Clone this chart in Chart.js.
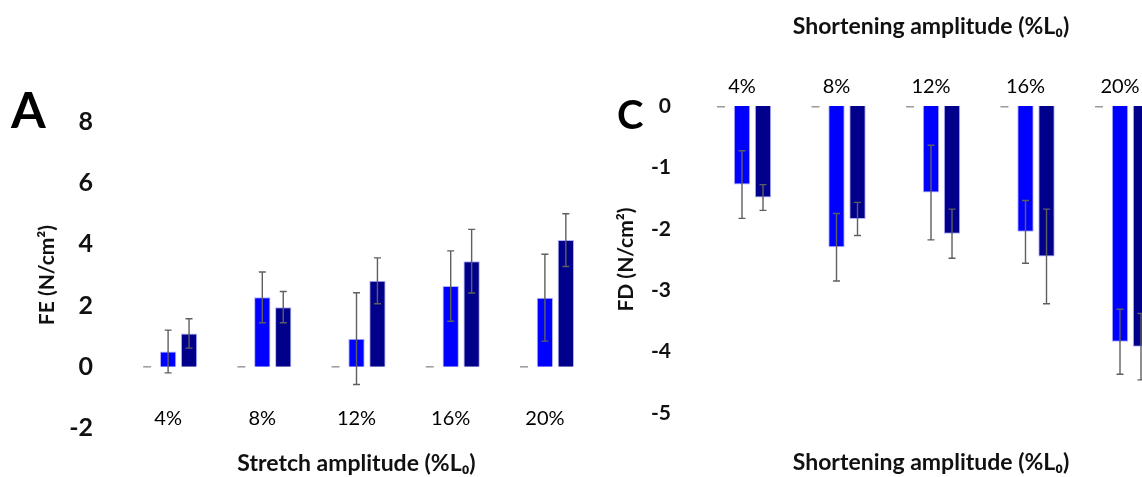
<!DOCTYPE html>
<html lang="en">
<head>
  <meta charset="UTF-8" />
  <title>FE / FD vs amplitude</title>
  <script src="https://cdn.jsdelivr.net/npm/chart.js"></script>
  <style>
    body {
      margin: 0;
      width: 1142px;
      height: 477px;
      overflow: hidden;
      position: relative;
      background: #fff;
      font-family: Lato, "Open Sans", sans-serif;
    }
    canvas {
      position: absolute;
      top: 0;
    }
    #chartA { left: 0; }
    #chartC { left: 600px; }
    .panel {
      position: absolute;
      font-weight: bold;
      color: #000;
      line-height: 1;
    }
    #letterA { left: 11px; top: 84px; font-size: 50px; }
    #letterC { left: 617px; top: 94px; font-size: 40px; }
  </style>
</head>
<body>
  <canvas id="chartA" width="610" height="477"></canvas>
  <canvas id="chartC" width="580" height="477"></canvas>
  <div class="panel" id="letterA">A</div>
  <div class="panel" id="letterC">C</div>

  <script>
    const amplitudes = ['4%', '8%', '12%', '16%', '20%'];
    const baseline = [0, 0, 0, 0, 0];

    // panel A : force enhancement
    const feBlue = [0.50, 2.27, 0.92, 2.64, 2.26];
    const feBlueErr = [0.70, 0.83, 1.50, 1.15, 1.42];
    const feNavy = [1.09, 1.95, 2.81, 3.45, 4.14];
    const feNavyErr = [0.48, 0.51, 0.75, 1.04, 0.86];

    // panel C : force depression
    const fdBlue = [-1.28, -2.30, -1.41, -2.05, -3.84];
    const fdBlueErr = [0.55, 0.55, 0.77, 0.51, 0.53];
    const fdNavy = [-1.49, -1.84, -2.08, -2.45, -3.92];
    const fdNavyErr = [0.21, 0.27, 0.40, 0.77, 0.54];

    const FONT = 'Lato, "Open Sans", sans-serif';
    const BLUE = '#0000ff';
    const NAVY = '#00008b';
    const EDGE = 'rgba(170,170,255,0.9)';

    // error bars drawn from each dataset's "errors" array
    const errorBars = {
      id: 'errorBars',
      afterDatasetsDraw(chart) {
        const ctx = chart.ctx;
        const yScale = chart.scales.y;
        ctx.save();
        ctx.strokeStyle = '#5f5f5f';
        ctx.lineWidth = 1.4;
        chart.data.datasets.forEach((ds, i) => {
          if (!ds.errors) return;
          const meta = chart.getDatasetMeta(i);
          meta.data.forEach((bar, j) => {
            const v = ds.data[j];
            const e = ds.errors[j];
            const yHi = yScale.getPixelForValue(v + e);
            const yLo = yScale.getPixelForValue(v - e);
            ctx.beginPath();
            ctx.moveTo(bar.x, yHi);
            ctx.lineTo(bar.x, yLo);
            ctx.moveTo(bar.x - 3.5, yHi);
            ctx.lineTo(bar.x + 3.5, yHi);
            ctx.moveTo(bar.x - 3.5, yLo);
            ctx.lineTo(bar.x + 3.5, yLo);
            ctx.stroke();
          });
        });
        ctx.restore();
      }
    };

    function datasets(blue, blueErr, navy, navyErr) {
      return [
        {
          data: baseline,
          backgroundColor: '#9a9a9a',
          borderWidth: 0,
          minBarLength: 1.5,
          barPercentage: 0.38,
          categoryPercentage: 0.667
        },
        {
          data: blue,
          errors: blueErr,
          backgroundColor: BLUE,
          borderColor: EDGE,
          borderWidth: 1,
          barPercentage: 0.78,
          categoryPercentage: 0.667
        },
        {
          data: navy,
          errors: navyErr,
          backgroundColor: NAVY,
          borderColor: EDGE,
          borderWidth: 1,
          barPercentage: 0.78,
          categoryPercentage: 0.667
        }
      ];
    }

    // Gráfico A
    new Chart(document.getElementById('chartA'), {
      type: 'bar',
      data: {
        labels: amplitudes,
        datasets: datasets(feBlue, feBlueErr, feNavy, feNavyErr)
      },
      options: {
        responsive: false,
        animation: false,
        layout: { padding: { left: 0, right: 18, top: 122, bottom: 0 } },
        plugins: { legend: { display: false }, tooltip: { enabled: false } },
        scales: {
          x: {
            position: 'bottom',
            grid: { display: false, drawTicks: false },
            border: { display: false },
            // mirrored so the labels sit just above the -2 line, like the original
            ticks: { mirror: true, color: '#000', padding: -3, font: { family: FONT, size: 20 } },
            title: {
              display: true,
              text: 'Stretch amplitude (%L\u2080)',
              color: '#111',
              padding: { top: 0, bottom: 0 },
              font: { family: FONT, size: 23, weight: 'bold' }
            },
            afterFit: s => { s.height = 49; }
          },
          y: {
            min: -2,
            max: 8,
            grid: { display: false, drawTicks: false },
            border: { display: false },
            ticks: { stepSize: 2, color: '#111', padding: 28, font: { family: FONT, size: 25, weight: 'bold' } },
            title: {
              display: true,
              text: 'FE (N/cm\u00b2)',
              color: '#111',
              padding: { top: 35, bottom: 0 },
              font: { family: FONT, size: 21, weight: 'bold' }
            },
            afterFit: s => { s.width = 121; }
          }
        }
      },
      plugins: [errorBars]
    });

    // Gráfico C
    new Chart(document.getElementById('chartC'), {
      type: 'bar',
      data: {
        labels: amplitudes,
        datasets: datasets(fdBlue, fdBlueErr, fdNavy, fdNavyErr)
      },
      options: {
        responsive: false,
        animation: false,
        layout: { padding: { left: 0, right: 12.75, top: 0, bottom: 0 } },
        plugins: {
          legend: { display: false },
          tooltip: { enabled: false },
          title: {
            display: true,
            position: 'bottom',
            fullSize: false,
            text: 'Shortening amplitude (%L\u2080)',
            color: '#111',
            padding: { top: 36.2, bottom: 0.2 },
            font: { family: FONT, size: 23, weight: 'bold', lineHeight: 1.2 }
          }
        },
        scales: {
          x: {
            position: 'top',
            grid: { display: false, drawTicks: false },
            border: { display: false },
            ticks: { color: '#000', padding: 7, font: { family: FONT, size: 20 } },
            title: {
              display: true,
              text: 'Shortening amplitude (%L\u2080)',
              color: '#111',
              padding: { top: 13.2, bottom: 0 },
              font: { family: FONT, size: 23, weight: 'bold' }
            },
            afterFit: s => { s.height = 106; }
          },
          y: {
            min: -5,
            max: 0,
            grid: { display: false, drawTicks: false },
            border: { display: false },
            ticks: { stepSize: 1, color: '#111', padding: 23.75, font: { family: FONT, size: 21, weight: 'bold' } },
            title: {
              display: true,
              text: 'FD (N/cm\u00b2)',
              color: '#111',
              padding: { top: 13.5, bottom: 0 },
              font: { family: FONT, size: 21, weight: 'bold' }
            },
            afterFit: s => { s.width = 94.75; }
          }
        }
      },
      plugins: [errorBars]
    });
  </script>
</body>
</html>
